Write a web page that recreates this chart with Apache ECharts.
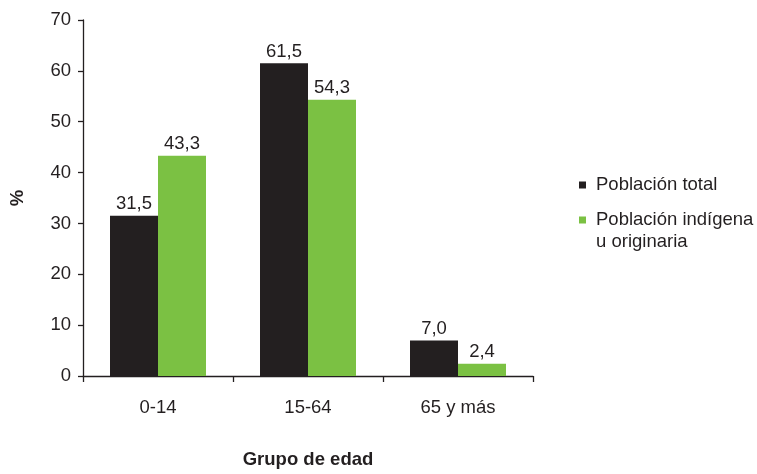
<!DOCTYPE html>
<html>
<head>
<meta charset="utf-8">
<script src="https://cdn.jsdelivr.net/npm/echarts@6/dist/echarts.min.js"></script>
<style>html,body{margin:0;padding:0;background:#fff}#c{width:757px;height:474px}</style>
</head>
<body>
<div id="c"></div>
<script>
const categories = ['0-14', '15-64', '65 y más'];
const seriesNames = ['Población total', 'Población indígena u originaria'];
const totalValues = [31.5, 61.5, 7.0];
const indigenaValues = [43.3, 54.3, 2.4];
const yTicks = [0, 10, 20, 30, 40, 50, 60, 70];

const FONT = '"Liberation Sans", Arial, Helvetica, sans-serif';
const FS = 18.5;
const TXT = '#231f20';
const fmt = v => v.toFixed(1).replace('.', ',');

const chart = echarts.init(document.getElementById('c'), null, {renderer: 'canvas'});
chart.setOption({
  animation: false,
  textStyle: {fontFamily: FONT, color: TXT},
  grid: {left: 81, right: 224, top: 20, bottom: 89, containLabel: false},
  legend: [
    {
      data: [seriesNames[0]], orient: 'vertical', left: 579, top: 174, padding: 0,
      icon: 'rect', itemWidth: 7, itemHeight: 7,
      textStyle: {fontFamily: FONT, fontSize: FS, color: TXT, lineHeight: 22, padding: [0, 0, 0, 5]}
    },
    {
      data: [seriesNames[1]], orient: 'vertical', left: 579, top: 187, padding: 0,
      icon: 'rect', itemWidth: 7, itemHeight: 7,
      formatter: () => '\nPoblación indígena\nu originaria',
      textStyle: {fontFamily: FONT, fontSize: FS, color: TXT, lineHeight: 22, padding: [0, 0, 0, 5]}
    }
  ],
  xAxis: {
    type: 'category', data: categories,
    name: 'Grupo de edad', nameLocation: 'middle', nameGap: 74,
    nameTextStyle: {fontFamily: FONT, fontSize: FS, fontWeight: 'bold', color: TXT},
    axisLine: {lineStyle: {color: TXT, width: 1.3}},
    axisTick: {show: true, length: 6, lineStyle: {color: TXT, width: 1.3}},
    axisLabel: {fontFamily: FONT, fontSize: FS, color: TXT, margin: 22}
  },
  yAxis: {
    type: 'value', min: yTicks[0], max: yTicks[yTicks.length - 1], interval: 10,
    name: '%', nameLocation: 'middle', nameGap: 56, nameRotate: 90,
    nameTextStyle: {fontFamily: FONT, fontSize: FS, fontWeight: 'bold', color: TXT},
    axisLine: {show: true, lineStyle: {color: TXT, width: 1.3}},
    axisTick: {show: true, length: 5, lineStyle: {color: TXT, width: 1.3}},
    splitLine: {show: false},
    axisLabel: {fontFamily: FONT, fontSize: FS, color: TXT, margin: 12}
  },
  series: [
    {
      name: seriesNames[0], type: 'bar', data: totalValues,
      barGap: '0%', barCategoryGap: '36%',
      itemStyle: {color: '#231f20'},
      label: {show: true, position: 'top', distance: 2, fontFamily: FONT, fontSize: FS, color: TXT, formatter: p => fmt(p.value)}
    },
    {
      name: seriesNames[1], type: 'bar', data: indigenaValues,
      barGap: '0%', barCategoryGap: '36%',
      itemStyle: {color: '#7bc143'},
      label: {show: true, position: 'top', distance: 2, fontFamily: FONT, fontSize: FS, color: TXT, formatter: p => fmt(p.value)}
    }
  ]
});
</script>
</body>
</html>
